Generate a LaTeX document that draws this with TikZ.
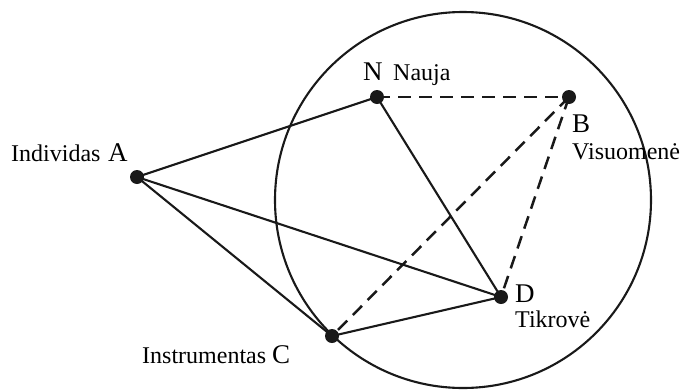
\documentclass[tikz,border=0pt]{standalone}
\usepackage{fontspec}
\setmainfont{Liberation Serif}
\begin{document}
\begin{tikzpicture}[x=1pt,y=-1pt,
  dot/.style={circle,fill=black!90,inner sep=0pt,minimum size=14pt},
  conn/.style={line width=2.1pt,black!90},
  dconn/.style={line width=2.5pt,black!90,dash pattern=on 13pt off 8pt},
  small/.style={inner sep=0pt,anchor=base west,font=\fontsize{24}{28}\selectfont},
  big/.style={inner sep=0pt,anchor=base west,font=\fontsize{27}{31}\selectfont}]
\useasboundingbox (0,0) rectangle (681,389);
\draw[line width=2.1pt,black!90] (463,200) circle (188);
\node[dot] (N) at (377,97) {};
\node[dot] (B) at (569,97) {};
\node[dot] (A) at (137,177) {};
\node[dot] (D) at (501,297) {};
\node[dot] (C) at (332,336) {};
\draw[conn] (A.center) -- (N.center);
\draw[conn] (A.center) -- (D.center);
\draw[conn] (A.center) -- (C.center);
\draw[conn] (N.center) -- (D.center);
\draw[conn] (C.center) -- (D.center);
\draw[dconn] (N.center) -- (B.center);
\draw[dconn] (B.center) -- (D.center);
\draw[dconn] (B.center) -- (C.center);
\node[big] (Nl) at (363,80) {N};
\node[small] (Nt) at (393,80) {Nauja};
\node[big] (Bl) at (572,132) {B};
\node[small] (Bt) at (572,159) {Visuomenė};
\node[small] (At) at (11,161) {Individas};
\node[big] (Al) at (108,161) {A};
\node[big] (Dl) at (515,302) {D};
\node[small] (Dt) at (515,327) {Tikrovė};
\node[small] (Ct) at (142,363) {Instrumentas};
\node[big] (Cl) at (272,363) {C};
\end{tikzpicture}
\end{document}
